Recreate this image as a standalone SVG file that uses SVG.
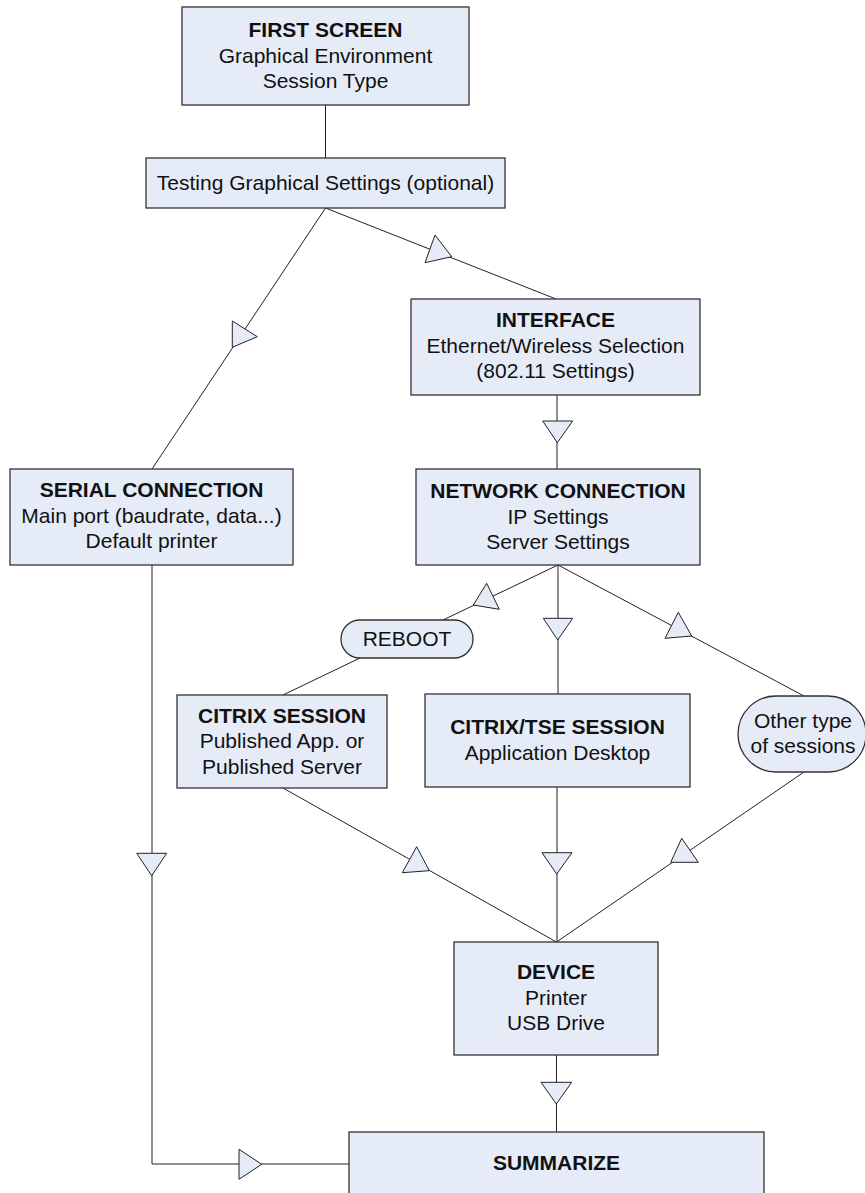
<svg xmlns="http://www.w3.org/2000/svg" width="865" height="1193" viewBox="0 0 865 1193">
<style>
.box{fill:#E6ECF7;stroke:#333;stroke-width:1.3}
.t{font-family:"Liberation Sans",Arial,sans-serif;font-size:21px;fill:#111;text-anchor:middle}
.b{font-weight:bold}
.c{fill:none;stroke:#222;stroke-width:1}
.ah{fill:#E6ECF7;stroke:#222;stroke-width:1;stroke-linejoin:miter}
</style>
<rect width="865" height="1193" fill="#fff"/>
<g id="connectors">
<path class="c" d="M325.5,105 V158"/>
<path class="c" d="M325.5,208 L152,469"/>
<path class="c" d="M325.5,208 L556,299"/>
<path class="c" d="M557,395 V469"/>
<path class="c" d="M558,565 L443,620"/>
<path class="c" d="M360,658 L283,695"/>
<path class="c" d="M558,565 V694"/>
<path class="c" d="M558,565 L804,696"/>
<path class="c" d="M283,788 L556.5,942"/>
<path class="c" d="M557,787 V942"/>
<path class="c" d="M804,772 L556.5,942"/>
<path class="c" d="M556.5,1055 V1132"/>
<path class="c" d="M152,565 V1164 H349"/>
<polygon class="ah" points="232.3,321 257.3,336.7 232.3,347.3"/>
<polygon class="ah" points="435,235 451.7,256.7 425,262.7"/>
<polygon class="ah" points="542.7,421 572.7,421 557.3,442.7"/>
<polygon class="ah" points="486.7,583.3 499.3,609.3 473.3,605"/>
<polygon class="ah" points="543.3,618.3 572.7,618.3 557.7,640"/>
<polygon class="ah" points="678.3,612.3 691.7,636 665,638.3"/>
<polygon class="ah" points="416.7,846.7 429.3,870.7 402.3,872.7"/>
<polygon class="ah" points="542,852.7 572,852.7 556.7,874"/>
<polygon class="ah" points="681.7,838.3 698.3,862.3 670.7,862.3"/>
<polygon class="ah" points="541,1082.3 571.7,1082.3 556.3,1104"/>
<polygon class="ah" points="136.7,853.3 166.7,853.3 151.7,875.7"/>
<polygon class="ah" points="239,1149.3 261.7,1164.3 239,1179.3"/>
</g>
<g id="first-screen">
<rect class="box" x="182" y="7" width="287" height="98"/>
<text class="t b" x="325.5" y="37">FIRST SCREEN</text>
<text class="t" x="325.5" y="62.5">Graphical Environment</text>
<text class="t" x="325.5" y="88">Session Type</text>
</g>
<g id="testing">
<rect class="box" x="146" y="158" width="359" height="50"/>
<text class="t" x="325.5" y="190">Testing Graphical Settings (optional)</text>
</g>
<g id="interface">
<rect class="box" x="411" y="299" width="289" height="96"/>
<text class="t b" x="555.5" y="327">INTERFACE</text>
<text class="t" x="555.5" y="353">Ethernet/Wireless Selection</text>
<text class="t" x="555.5" y="378">(802.11 Settings)</text>
</g>
<g id="network">
<rect class="box" x="416" y="469" width="284" height="96"/>
<text class="t b" x="558" y="498">NETWORK CONNECTION</text>
<text class="t" x="558" y="523.5">IP Settings</text>
<text class="t" x="558" y="549">Server Settings</text>
</g>
<g id="serial">
<rect class="box" x="10" y="469" width="283" height="96"/>
<text class="t b" x="151.5" y="497">SERIAL CONNECTION</text>
<text class="t" x="151.5" y="523">Main port (baudrate, data...)</text>
<text class="t" x="151.5" y="548">Default printer</text>
</g>
<g id="reboot">
<rect class="box" x="341" y="620" width="132" height="38" rx="19" ry="19"/>
<text class="t" x="407" y="646">REBOOT</text>
</g>
<g id="citrix-session">
<rect class="box" x="177" y="695" width="210" height="93"/>
<text class="t b" x="282" y="723">CITRIX SESSION</text>
<text class="t" x="282" y="748">Published App. or</text>
<text class="t" x="282" y="773.5">Published Server</text>
</g>
<g id="citrix-tse">
<rect class="box" x="425" y="694" width="265" height="93"/>
<text class="t b" x="557.5" y="734">CITRIX/TSE SESSION</text>
<text class="t" x="557.5" y="760">Application Desktop</text>
</g>
<g id="other">
<rect class="box" x="738" y="696" width="128" height="76" rx="38" ry="38"/>
<text class="t" x="803" y="728">Other type</text>
<text class="t" x="803" y="753">of sessions</text>
</g>
<g id="device">
<rect class="box" x="454" y="942" width="204" height="113"/>
<text class="t b" x="556" y="979">DEVICE</text>
<text class="t" x="556" y="1004.5">Printer</text>
<text class="t" x="556" y="1030">USB Drive</text>
</g>
<g id="summarize">
<rect class="box" x="349" y="1132" width="415" height="70"/>
<text class="t b" x="556.5" y="1170">SUMMARIZE</text>
</g>
</svg>
